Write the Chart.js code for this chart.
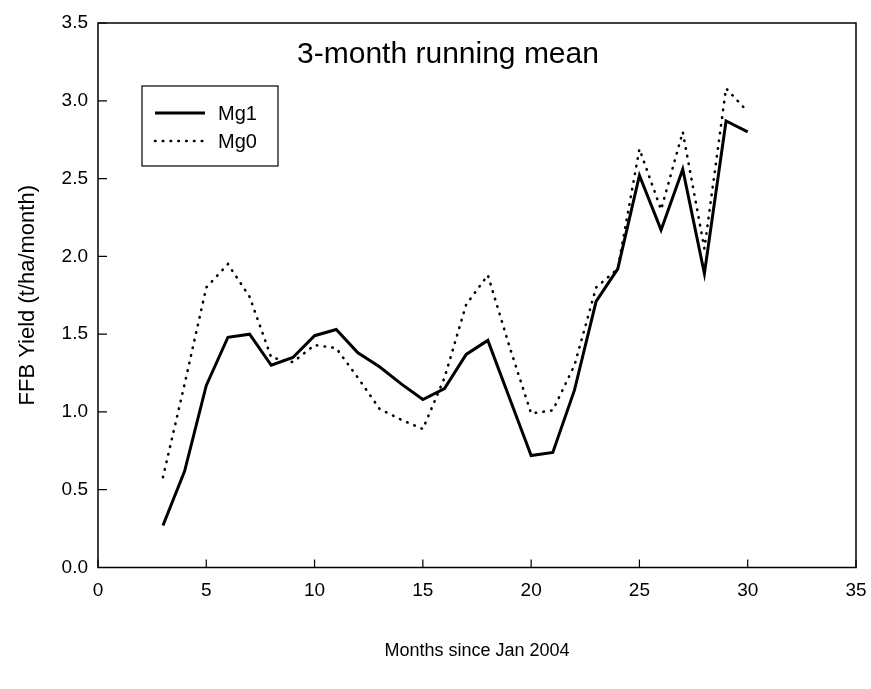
<!DOCTYPE html>
<html>
<head>
<meta charset="utf-8">
<title>FFB Yield - 3-month running mean</title>
<script src="https://cdn.jsdelivr.net/npm/chart.js"></script>
<style>
    body { margin: 0; background: #fff; }
    #wrap { width: 871px; height: 689px; position: relative; }
</style>
</head>
<body>
<div id="wrap"><canvas id="yieldChart"></canvas></div>
<script>
// Bulan sejak Jan 2004
const months = [3, 4, 5, 6, 7, 8, 9, 10, 11, 12, 13, 14, 15, 16, 17, 18, 19, 20, 21, 22, 23, 24, 25, 26, 27, 28, 29, 30];
// Yield FFB (t/ha/bulan), running mean 3 bulan
const mg1 = [0.27, 0.62, 1.17, 1.48, 1.50, 1.30, 1.35, 1.49, 1.53, 1.38, 1.29, 1.18, 1.08, 1.15,
             1.37, 1.46, 1.09, 0.72, 0.74, 1.14, 1.71, 1.92, 2.52, 2.17, 2.56, 1.89, 2.87, 2.80];
const mg0 = [0.58, 1.18, 1.80, 1.95, 1.74, 1.35, 1.32, 1.43, 1.41, 1.22, 1.02, 0.95, 0.89, 1.22,
             1.69, 1.88, 1.42, 0.99, 1.01, 1.30, 1.80, 1.92, 2.69, 2.30, 2.80, 2.05, 3.08, 2.93];
const xTicks = [0, 5, 10, 15, 20, 25, 30, 35];
const yTicks = [0, 0.5, 1.0, 1.5, 2.0, 2.5, 3.0, 3.5];
const seriesNames = ['Mg1', 'Mg0'];

const FONT = 'Liberation Sans, Arial, sans-serif';

function toPoints(xs, ys) {
    return xs.map((x, i) => ({ x: x, y: ys[i] }));
}

// Frame, inward tick marks, title and legend box drawn on the canvas
const framePlugin = {
    id: 'frame',
    afterDraw(chart) {
        const ctx = chart.ctx;
        const area = chart.chartArea;
        const xs = chart.scales.x;
        const ys = chart.scales.y;
        ctx.save();
        ctx.strokeStyle = '#000';
        ctx.lineWidth = 1.5;
        ctx.strokeRect(area.left, area.top, area.right - area.left, area.bottom - area.top);

        ctx.lineWidth = 1.2;
        ctx.beginPath();
        xTicks.forEach(v => {
            const px = xs.getPixelForValue(v);
            ctx.moveTo(px, area.bottom);
            ctx.lineTo(px, area.bottom - 8);
        });
        yTicks.forEach(v => {
            const py = ys.getPixelForValue(v);
            ctx.moveTo(area.left, py);
            ctx.lineTo(area.left + 9, py);
        });
        ctx.stroke();

        // judul di dalam area plot
        ctx.fillStyle = '#000';
        ctx.font = '30px ' + FONT;
        ctx.textAlign = 'center';
        ctx.textBaseline = 'alphabetic';
        ctx.fillText('3-month running mean', 448, 63);

        // legend
        ctx.lineWidth = 1.2;
        ctx.strokeRect(142, 86, 136, 80);
        ctx.font = '20px ' + FONT;
        ctx.textAlign = 'left';
        const rows = [113, 141];
        chart.data.datasets.forEach((ds, i) => {
            ctx.save();
            ctx.lineWidth = ds.borderWidth;
            ctx.lineCap = ds.borderCapStyle || 'butt';
            ctx.setLineDash(ds.borderDash || []);
            ctx.beginPath();
            ctx.moveTo(155, rows[i]);
            ctx.lineTo(205, rows[i]);
            ctx.stroke();
            ctx.restore();
            ctx.fillText(ds.label, 218, rows[i] + 7);
        });
        ctx.restore();
    }
};

const ctx = document.getElementById('yieldChart');
new Chart(ctx, {
    type: 'line',
    data: {
        datasets: [{
            label: seriesNames[0],
            data: toPoints(months, mg1),
            borderColor: '#000',
            borderWidth: 3,
            pointRadius: 0,
            tension: 0,
            fill: false
        }, {
            label: seriesNames[1],
            data: toPoints(months, mg0),
            borderColor: '#000',
            borderWidth: 2.6,
            borderDash: [0.5, 7.3],
            borderCapStyle: 'round',
            pointRadius: 0,
            tension: 0,
            fill: false
        }]
    },
    options: {
        responsive: true,
        maintainAspectRatio: false,
        animation: false,
        layout: { padding: { top: 23, right: 15, left: 0, bottom: 0 } },
        plugins: {
            legend: { display: false },
            title: { display: false },
            tooltip: { enabled: false }
        },
        scales: {
            x: {
                type: 'linear',
                min: 0,
                max: 35,
                afterFit: s => {
                    s.height = 121.5;
                    s.paddingLeft = 0;
                    s.paddingRight = 0;
                },
                afterBuildTicks: s => { s.ticks = xTicks.map(v => ({ value: v })); },
                grid: { display: false, drawTicks: false },
                border: { display: false },
                ticks: {
                    color: '#000',
                    padding: 12,
                    maxRotation: 0,
                    font: { family: FONT, size: 19 }
                },
                title: {
                    display: true,
                    text: 'Months since Jan 2004',
                    color: '#000',
                    font: { family: FONT, size: 18 },
                    padding: { top: 0, bottom: 27 }
                }
            },
            y: {
                type: 'linear',
                min: 0,
                max: 3.5,
                afterFit: s => {
                    s.width = 98;
                    s.paddingTop = 0;
                    s.paddingBottom = 0;
                },
                afterBuildTicks: s => { s.ticks = yTicks.map(v => ({ value: v })); },
                grid: { display: false, drawTicks: false },
                border: { display: false },
                ticks: {
                    color: '#000',
                    padding: 10,
                    font: { family: FONT, size: 19 },
                    callback: v => Number(v).toFixed(1)
                },
                title: {
                    display: true,
                    text: 'FFB Yield (t/ha/month)',
                    color: '#000',
                    font: { family: FONT, size: 22 },
                    padding: { top: 15, bottom: 0 }
                }
            }
        }
    },
    plugins: [framePlugin]
});
</script>
</body>
</html>
